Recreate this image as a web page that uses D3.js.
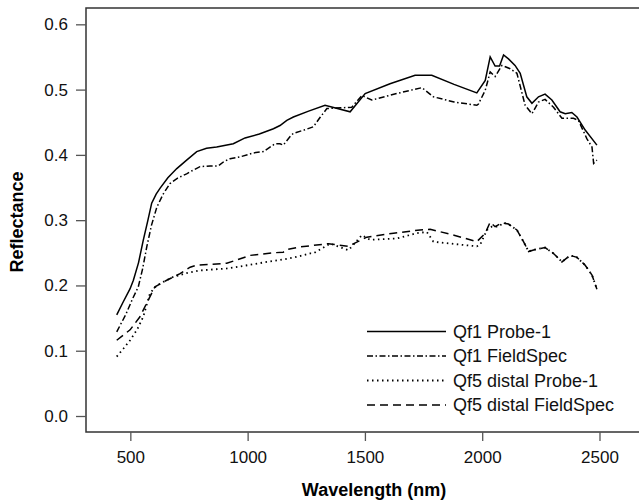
<!DOCTYPE html>
<html>
<head>
<meta charset="utf-8">
<script src="https://cdn.jsdelivr.net/npm/d3@7"></script>
<style>
  body { margin: 0; background: #fff; }
  svg { display: block; font-family: "Liberation Sans", Arial, sans-serif; }
</style>
</head>
<body>
<div id="chart"></div>
<script>
// spectra (wavelength in nm, reflectance)
const qf1ProbeWl = [442, 470, 499, 513, 535, 555, 575, 591, 610, 627, 660, 698, 740, 783, 825, 868, 939, 989, 1050, 1110, 1138, 1167, 1195, 1260, 1330, 1437, 1501, 1607, 1714, 1785, 1880, 1977, 2013, 2034, 2055, 2074, 2091, 2112, 2140, 2162, 2190, 2212, 2240, 2268, 2297, 2332, 2354, 2382, 2404, 2439, 2489];
const qf1ProbeR  = [0.155, 0.175, 0.195, 0.208, 0.235, 0.269, 0.300, 0.326, 0.340, 0.349, 0.365, 0.379, 0.392, 0.405, 0.410, 0.412, 0.417, 0.426, 0.432, 0.440, 0.445, 0.453, 0.458, 0.467, 0.476, 0.466, 0.494, 0.509, 0.522, 0.522, 0.508, 0.495, 0.514, 0.550, 0.536, 0.536, 0.553, 0.547, 0.537, 0.525, 0.489, 0.479, 0.489, 0.493, 0.484, 0.466, 0.463, 0.465, 0.458, 0.438, 0.415];

const qf1FieldWl = [442, 480, 510, 534, 552, 570, 590, 613, 640, 669, 700, 740, 770, 797, 840, 875, 900, 925, 968, 1025, 1067, 1117, 1138, 1152, 1181, 1195, 1240, 1280, 1310, 1338, 1444, 1487, 1529, 1636, 1743, 1792, 1880, 1977, 1984, 2013, 2034, 2055, 2084, 2119, 2148, 2183, 2212, 2240, 2268, 2304, 2340, 2389, 2410, 2446, 2468, 2475, 2489];
const qf1FieldR  = [0.129, 0.155, 0.180, 0.198, 0.225, 0.259, 0.292, 0.320, 0.340, 0.356, 0.364, 0.371, 0.377, 0.382, 0.383, 0.383, 0.390, 0.394, 0.397, 0.403, 0.405, 0.417, 0.417, 0.415, 0.428, 0.433, 0.438, 0.443, 0.458, 0.471, 0.473, 0.491, 0.484, 0.494, 0.503, 0.489, 0.481, 0.476, 0.478, 0.499, 0.527, 0.520, 0.537, 0.532, 0.525, 0.476, 0.463, 0.481, 0.485, 0.473, 0.456, 0.456, 0.453, 0.425, 0.412, 0.387, 0.392];

const qf5ProbeWl = [442, 470, 499, 530, 555, 584, 605, 627, 683, 740, 797, 911, 1000, 1082, 1138, 1200, 1266, 1280, 1352, 1430, 1487, 1522, 1636, 1721, 1764, 1792, 1920, 1977, 1991, 2020, 2041, 2069, 2091, 2112, 2148, 2176, 2198, 2212, 2226, 2268, 2304, 2340, 2375, 2404, 2439, 2468, 2489];
const qf5ProbeR  = [0.091, 0.103, 0.116, 0.133, 0.152, 0.188, 0.197, 0.203, 0.213, 0.219, 0.223, 0.226, 0.231, 0.236, 0.239, 0.243, 0.249, 0.249, 0.264, 0.254, 0.277, 0.270, 0.272, 0.280, 0.282, 0.267, 0.262, 0.260, 0.262, 0.285, 0.290, 0.290, 0.296, 0.294, 0.285, 0.267, 0.252, 0.254, 0.255, 0.258, 0.249, 0.236, 0.246, 0.243, 0.231, 0.216, 0.194];

const qf5FieldWl = [442, 470, 499, 541, 577, 605, 655, 712, 755, 783, 911, 954, 1010, 1110, 1152, 1167, 1224, 1344, 1430, 1480, 1508, 1622, 1735, 1778, 1880, 1977, 2013, 2034, 2055, 2084, 2112, 2148, 2176, 2198, 2226, 2268, 2304, 2340, 2375, 2404, 2439, 2468, 2489];
const qf5FieldR  = [0.116, 0.124, 0.132, 0.152, 0.178, 0.198, 0.208, 0.218, 0.228, 0.231, 0.234, 0.239, 0.246, 0.250, 0.251, 0.255, 0.259, 0.264, 0.260, 0.269, 0.274, 0.280, 0.285, 0.286, 0.277, 0.267, 0.280, 0.297, 0.290, 0.296, 0.294, 0.285, 0.267, 0.252, 0.255, 0.258, 0.249, 0.236, 0.246, 0.243, 0.231, 0.216, 0.194];

const seriesNames = ["Qf1 Probe-1", "Qf1 FieldSpec", "Qf5 distal Probe-1", "Qf5 distal FieldSpec"];
const xTicks = [500, 1000, 1500, 2000, 2500];
const yTicks = [0.0, 0.1, 0.2, 0.3, 0.4, 0.5, 0.6];

const series = [
  { name: seriesNames[0], wl: qf1ProbeWl, r: qf1ProbeR, dash: null },
  { name: seriesNames[1], wl: qf1FieldWl, r: qf1FieldR, dash: "6,2.5,1.5,2.5" },
  { name: seriesNames[2], wl: qf5ProbeWl, r: qf5ProbeR, dash: "1.5,3.5" },
  { name: seriesNames[3], wl: qf5FieldWl, r: qf5FieldR, dash: "8,5" }
];

const width = 639, height = 504;
const svg = d3.select("#chart").append("svg")
  .attr("width", width)
  .attr("height", height);

// plot box: left 86, top 8, bottom 432, right edge runs off the picture
const x = d3.scaleLinear().domain([311, 2694]).range([86, 645]);
const y = d3.scaleLinear().domain([-0.0245, 0.625]).range([432, 8]);

// frame
svg.append("rect")
  .attr("x", 86).attr("y", 8)
  .attr("width", 559).attr("height", 424)
  .attr("fill", "none")
  .attr("stroke", "#333")
  .attr("stroke-width", 1.5);

// axes
const yAxis = svg.append("g")
  .attr("transform", "translate(86,0)")
  .call(d3.axisLeft(y).tickValues(yTicks).tickFormat(d3.format(".1f")).tickSize(10).tickPadding(8));
const xAxis = svg.append("g")
  .attr("transform", "translate(0,432)")
  .call(d3.axisBottom(x).tickValues(xTicks).tickFormat(d3.format("d")).tickSize(9).tickPadding(10));

[xAxis, yAxis].forEach(function (g) {
  g.select(".domain").remove();
  g.selectAll(".tick line").attr("stroke", "#555").attr("stroke-width", 1.3);
  g.selectAll(".tick text")
    .attr("fill", "#111")
    .style("font-family", "'Liberation Sans', Arial, sans-serif")
    .style("font-size", "17px");
});

// axis titles
svg.append("text")
  .attr("x", 374).attr("y", 496)
  .attr("text-anchor", "middle")
  .style("font-weight", "bold")
  .style("font-size", "18px")
  .text("Wavelength (nm)");

svg.append("text")
  .attr("transform", "translate(23,222) rotate(-90)")
  .attr("text-anchor", "middle")
  .style("font-weight", "bold")
  .style("font-size", "18px")
  .text("Reflectance");

// curves
const line = d3.line()
  .x(d => x(d[0]))
  .y(d => y(d[1]));

series.forEach(function (s) {
  const pts = s.wl.map((w, i) => [w, s.r[i]]);
  svg.append("path")
    .datum(pts)
    .attr("d", line)
    .attr("fill", "none")
    .attr("stroke", "#000")
    .attr("stroke-width", s.dash === "1.5,3.5" ? 1.8 : 1.5)
    .attr("stroke-dasharray", s.dash);
});

// legend
const legend = svg.append("g");
series.forEach(function (s, i) {
  const ly = 331.5 + i * 24.5;
  legend.append("line")
    .attr("x1", 367).attr("x2", 446)
    .attr("y1", ly).attr("y2", ly)
    .attr("stroke", "#000")
    .attr("stroke-width", s.dash === "1.5,3.5" ? 1.8 : 1.5)
    .attr("stroke-dasharray", s.dash);
  legend.append("text")
    .attr("x", 453).attr("y", ly)
    .attr("dy", "0.35em")
    .style("font-size", "18px")
    .attr("fill", "#111")
    .text(s.name);
});
</script>
</body>
</html>
